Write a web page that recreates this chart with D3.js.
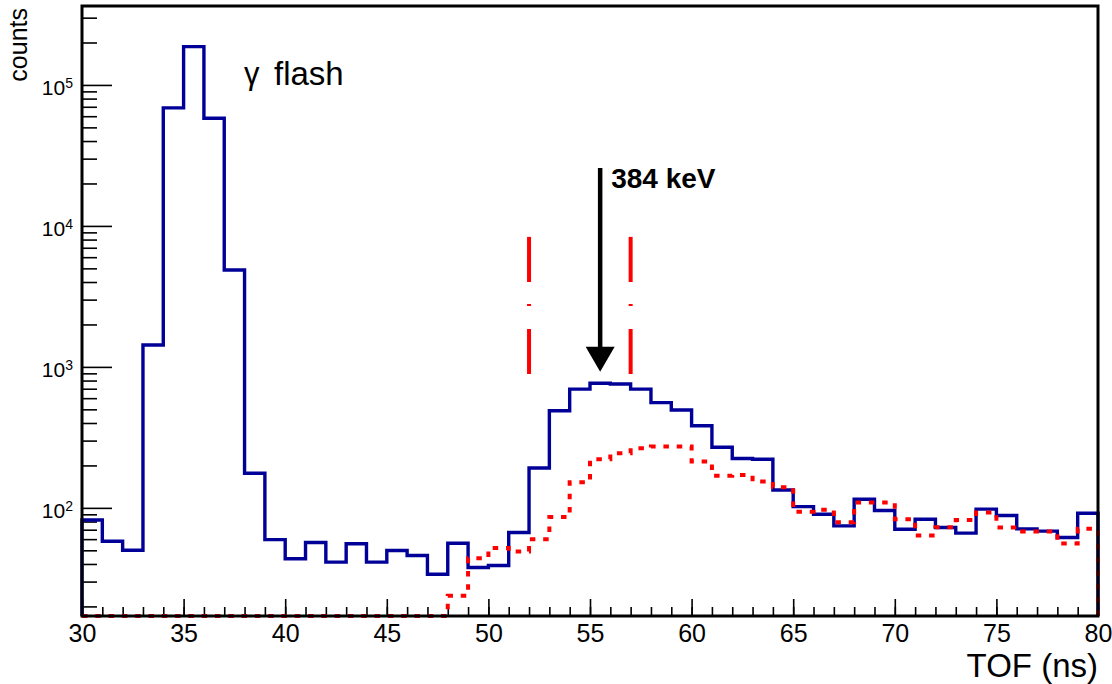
<!DOCTYPE html>
<html>
<head>
<meta charset="utf-8">
<script src="https://cdn.jsdelivr.net/npm/d3@7"></script>
<style>
  html, body { margin: 0; padding: 0; background: #fff; }
  svg { display: block; font-family: "Liberation Sans", Arial, Helvetica, sans-serif; }
</style>
</head>
<body>
<svg id="chart" width="1112" height="684"></svg>
<script>
// Time-of-flight spectrum, 1 ns bins from 30 to 80 ns
const binEdges = d3.range(30, 80, 1);

// total counts per bin (solid blue)
const totalCounts = [
  82, 58, 50, 1430, 68700, 187000, 58000, 4870, 176, 59.5,
  43.6, 56.8, 41.2, 55.6, 41.2, 49.8, 45.9, 33.8, 56.1, 37.8,
  39, 66.8, 192, 488, 695, 766, 757, 695, 558, 495,
  382, 269, 224, 221, 134, 102, 90, 74.5, 115, 95.7,
  70.6, 83, 72.6, 66.2, 97.9, 88.2, 71, 68.4, 61.6, 91.6
];

// second spectrum (dotted red)
const filteredCounts = [
  0, 0, 0, 0, 0, 0, 0, 0, 0, 0,
  0, 0, 0, 0, 0, 0, 0, 0, 23.8, 44,
  52, 49, 60, 86, 152, 221, 244, 265, 272, 272,
  213, 169, 171, 154, 140, 94, 96.8, 79, 109, 109,
  83, 63.7, 73, 82, 92.7, 72.5, 68, 68, 55.8, 71
];

const xTicksMajor = [30, 35, 40, 45, 50, 55, 60, 65, 70, 75, 80];
const yTicksMajor = [100, 1000, 10000, 100000];
const yTickExponents = ["2", "3", "4", "5"];

// time window and peak marker
const windowEdges = [52, 57];
const windowSpan = [891, 8360];
const peakTime = 55.5;
const peakArrowSpan = [25800, 922];
const peakLabel = "384 keV";

const xDomain = [30, 80];
const yDomain = [17.1, 3.63e5];

const svg = d3.select("#chart");
const frameLeft = 82, frameRight = 1098, frameTop = 6, frameBottom = 616;

const x = d3.scaleLinear().domain(xDomain).range([frameLeft, frameRight]);
const y = d3.scaleLog().domain(yDomain).range([frameBottom, frameTop]).clamp(true);
const yv = v => y(Math.max(v, yDomain[0]));

// minor y ticks: 2..9 x 10^k inside the domain
const yTicksMinor = [];
for (let k = 1; k <= 5; k++) {
  for (let m = 2; m <= 9; m++) {
    const v = m * Math.pow(10, k);
    if (v >= yDomain[0] && v <= yDomain[1]) yTicksMinor.push(v);
  }
}
const xTicksMinor = d3.range(30, 81, 1);

// ---- axes (ticks point into the frame) ----
const tickStyle = g => {
  g.select(".domain").remove();
  g.selectAll(".tick line").attr("stroke", "#000").attr("stroke-width", 1.6);
};

svg.append("g")
  .attr("transform", `translate(0,${frameBottom})`)
  .call(d3.axisBottom(x).tickValues(xTicksMinor).tickSize(-9).tickFormat(""))
  .call(tickStyle)
  .call(g => g.selectAll("text").remove());

svg.append("g")
  .attr("transform", `translate(0,${frameBottom})`)
  .call(d3.axisBottom(x).tickValues(xTicksMajor).tickSize(-17).tickFormat(d3.format("d")))
  .call(tickStyle)
  .call(g => g.selectAll("text")
    .attr("y", 26).attr("dy", null)
    .attr("fill", "#000")
    .style("font-size", "25px")
    .style("font-family", "Liberation Sans, Arial, sans-serif"));

svg.append("g")
  .attr("transform", `translate(${frameLeft},0)`)
  .call(d3.axisLeft(y).tickValues(yTicksMinor).tickSize(-15).tickFormat(""))
  .call(tickStyle)
  .call(g => g.selectAll("text").remove());

const yAxisMajor = svg.append("g")
  .attr("transform", `translate(${frameLeft},0)`)
  .call(d3.axisLeft(y).tickValues(yTicksMajor).tickSize(-30).tickFormat(""))
  .call(tickStyle)
  .call(g => g.selectAll("text").remove());

yAxisMajor.selectAll(".tick").each(function(d, i) {
  const t = d3.select(this).append("text")
    .attr("x", -9)
    .attr("y", 10)
    .attr("text-anchor", "end")
    .attr("fill", "#000")
    .style("font-family", "Liberation Sans, Arial, sans-serif");
  t.append("tspan").style("font-size", "21px").text("10");
  t.append("tspan").style("font-size", "14px").attr("dy", -7.5).text(yTickExponents[i]);
});

// ---- histograms ----
function stepPoints(values) {
  const pts = [[xDomain[0], yDomain[0]]];
  binEdges.forEach((e, i) => pts.push([e, values[i]]));
  pts.push([xDomain[1], values[values.length - 1]]);
  pts.push([xDomain[1], yDomain[0]]);
  return pts;
}
const histLine = d3.line()
  .x(d => x(d[0]))
  .y(d => yv(d[1]))
  .curve(d3.curveStepAfter);

svg.append("path")
  .attr("d", histLine(stepPoints(totalCounts)))
  .attr("fill", "none")
  .attr("stroke", "#000099")
  .attr("stroke-width", 3.4)
  .attr("stroke-linejoin", "miter");

svg.append("path")
  .attr("d", histLine(stepPoints(filteredCounts)))
  .attr("fill", "none")
  .attr("stroke", "#ff0000")
  .attr("stroke-width", 4)
  .attr("stroke-dasharray", "5.5 7.8");

// ---- frame ----
svg.append("rect")
  .attr("x", frameLeft).attr("y", frameTop)
  .attr("width", frameRight - frameLeft).attr("height", frameBottom - frameTop)
  .attr("fill", "none")
  .attr("stroke", "#000")
  .attr("stroke-width", 3);

// ---- time window lines ----
svg.selectAll(".window")
  .data(windowEdges)
  .enter().append("line")
  .attr("class", "window")
  .attr("x1", d => x(d)).attr("x2", d => x(d))
  .attr("y1", y(windowSpan[1])).attr("y2", y(windowSpan[0]))
  .attr("stroke", "#ff0000")
  .attr("stroke-width", 4)
  .attr("stroke-dasharray", "45 22 2 23");

// ---- peak arrow ----
const ax = x(peakTime);
const tipY = y(peakArrowSpan[1]);
const headLen = 25, headHalf = 14.5;
svg.append("line")
  .attr("x1", ax).attr("x2", ax)
  .attr("y1", y(peakArrowSpan[0])).attr("y2", tipY - headLen + 2)
  .attr("stroke", "#000").attr("stroke-width", 4.5);
svg.append("path")
  .attr("d", `M${ax - headHalf},${tipY - headLen}L${ax + headHalf},${tipY - headLen}L${ax},${tipY}Z`)
  .attr("fill", "#000");

svg.append("text")
  .attr("x", ax + 11).attr("y", 188)
  .attr("font-weight", "bold")
  .style("font-size", "28px")
  .attr("fill", "#000")
  .text(peakLabel);

// ---- labels ----
svg.append("text")
  .attr("x", 244).attr("y", 84)
  .style("font-size", "31px")
  .attr("fill", "#000")
  .text("γ");
svg.append("text")
  .attr("x", 274).attr("y", 85)
  .style("font-size", "33px")
  .attr("fill", "#000")
  .text("flash");

svg.append("text")
  .attr("x", frameRight).attr("y", 677)
  .attr("text-anchor", "end")
  .style("font-size", "33px")
  .attr("fill", "#000")
  .text("TOF (ns)");

svg.append("text")
  .attr("transform", "translate(27,8) rotate(-90)")
  .attr("text-anchor", "end")
  .style("font-size", "25px")
  .attr("fill", "#000")
  .text("counts");
</script>
</body>
</html>
